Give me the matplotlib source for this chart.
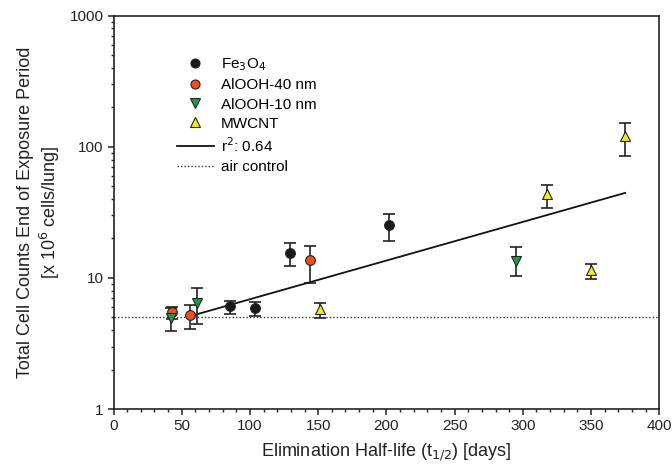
import numpy as np
import matplotlib.pyplot as plt
from matplotlib.ticker import FixedLocator, NullFormatter, MultipleLocator

plt.rcParams['font.family'] = ['Liberation Sans', 'DejaVu Sans']

# half-life (days), cell counts (x 10^6 cells/lung), error bar low/high
fe_x = [85, 104, 129, 202]
fe_y = [6.1, 5.95, 15.6, 25.5]
fe_lo = [5.3, 5.15, 12.4, 19.3]
fe_hi = [6.7, 6.6, 18.6, 31.0]

al40_x = [43, 56, 144]
al40_y = [5.5, 5.2, 13.7]
al40_lo = [4.9, 4.1, 9.2]
al40_hi = [6.0, 6.2, 17.6]

al10_x = [42, 61, 295]
al10_y = [4.95, 6.5, 13.5]
al10_lo = [3.95, 4.45, 10.3]
al10_hi = [5.95, 8.45, 17.3]

cnt_x = [151, 318, 350, 375]
cnt_y = [5.8, 43.5, 11.5, 120]
cnt_lo = [4.95, 34.4, 9.9, 85]
cnt_hi = [6.4, 51.3, 12.8, 152]

fit_x = [60, 375]
fit_y = [5.25, 44.5]
air_control = 5.0

fig = plt.figure(figsize=(6.72, 4.73), dpi=100)
ax = fig.add_axes([0.169, 0.135, 0.812, 0.832])


def series(x, y, lo, hi, marker, color, label):
    y = np.array(y)
    err = [y - np.array(lo), np.array(hi) - y]
    ax.errorbar(x, y, yerr=err, fmt='none', ecolor='#222222', elinewidth=1.2,
                capsize=4.3, capthick=1.2, zorder=2)
    ax.plot(x, y, linestyle='none', marker=marker, markersize=7 if marker == 'o' else 7.5,
            markerfacecolor=color, markeredgecolor='#222222', markeredgewidth=0.8,
            label=label, zorder=3)


series(fe_x, fe_y, fe_lo, fe_hi, 'o', '#1a1a1a', 'Fe$_3$O$_4$')
series(al40_x, al40_y, al40_lo, al40_hi, 'o', '#f04e1e', 'AlOOH-40 nm')
series(al10_x, al10_y, al10_lo, al10_hi, 'v', '#1e9a44', 'AlOOH-10 nm')
series(cnt_x, cnt_y, cnt_lo, cnt_hi, '^', '#f5ea14', 'MWCNT')

ax.plot(fit_x, fit_y, color='#111111', linewidth=1.3, label='r$^2$: 0.64', zorder=2)
ax.axhline(air_control, color='#333333', linewidth=1.0, linestyle=(0, (1, 1.5)),
           label='air control', zorder=1)

ax.set_yscale('log')
ax.set_xlim(0, 400)
ax.set_ylim(1, 1000)
ax.xaxis.set_major_locator(MultipleLocator(50))
ax.xaxis.set_minor_locator(MultipleLocator(10))
ax.yaxis.set_major_locator(FixedLocator([1, 10, 100, 1000]))
ax.set_yticklabels(['1', '10', '100', '1000'])
ax.yaxis.set_minor_formatter(NullFormatter())
ax.tick_params(which='major', direction='out', length=4, width=1.1, labelsize=11,
               colors='#222222', pad=3)
ax.tick_params(which='minor', direction='out', length=2.3, width=1.0, colors='#222222')
for s in ax.spines.values():
    s.set_linewidth(1.2)
    s.set_color('#222222')

ax.set_xlabel('Elimination Half-life (t$_{1/2}$) [days]', fontsize=13, color='#222222', labelpad=6)
ax.set_ylabel('Total Cell Counts End of Exposure Period\n[x 10$^6$ cells/lung]', fontsize=13,
              color='#222222', labelpad=6)

leg = ax.legend(loc='upper left', bbox_to_anchor=(0.116, 0.896), frameon=False, fontsize=11,
                borderaxespad=0, borderpad=0, handlelength=2.4, handletextpad=0.5,
                labelspacing=0.34, numpoints=1)
for h in leg.legend_handles[:4]:
    h.set_markersize(6.5)

fig.savefig('out.png', dpi=100)
